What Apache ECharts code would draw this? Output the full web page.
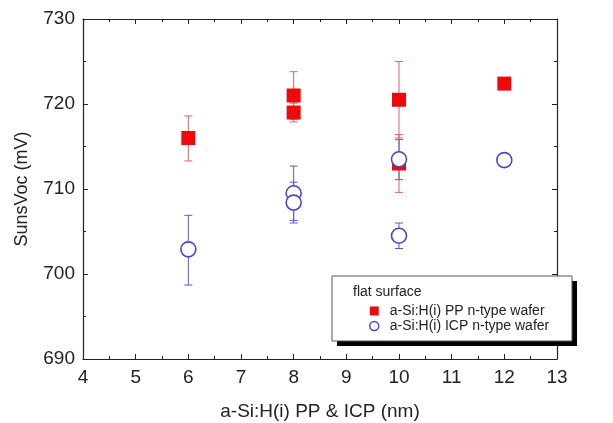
<!DOCTYPE html>
<html>
<head>
<meta charset="utf-8">
<script src="https://cdn.jsdelivr.net/npm/echarts@6/dist/echarts.min.js"></script>
<style>
html, body { margin: 0; padding: 0; background: #fff; }
#chart { width: 613px; height: 423px; }
</style>
</head>
<body>
<div id="chart"></div>
<script>
// thickness (nm), SunsVoc (mV), error bar low / high
var ppX    = [6, 8, 8, 10, 10, 12];
var ppY    = [716.0, 721.0, 719.0, 720.5, 713.0, 722.4];
var ppLow  = [713.3, 718.2, 717.9, 716.0, 709.6, 722.0];
var ppHigh = [718.6, 723.8, 720.1, 725.0, 716.4, 722.8];

var icpX    = [6, 8, 8, 10, 10, 12];
var icpY    = [702.9, 709.5, 708.4, 713.5, 704.5, 713.4];
var icpLow  = [698.7, 706.3, 706.0, 711.1, 703.0, 713.0];
var icpHigh = [706.9, 712.7, 710.8, 715.8, 706.0, 713.8];

var xTicks = [4, 5, 6, 7, 8, 9, 10, 11, 12, 13];
var yTicks = [690, 700, 710, 720, 730];

var font = 'Liberation Sans, Arial, sans-serif';
var red = '#ee0a0a';
var blue = '#4646d2';

function pairs(xs, ys) {
    return xs.map(function (x, i) { return [x, ys[i]]; });
}
function errData(xs, lo, hi) {
    return xs.map(function (x, i) { return [x, lo[i], hi[i]]; });
}
function errRender(color) {
    return function (params, api) {
        var top = api.coord([api.value(0), api.value(2)]);
        var bot = api.coord([api.value(0), api.value(1)]);
        var w = 4;
        var st = { stroke: color, lineWidth: 1 };
        return {
            type: 'group',
            children: [
                { type: 'line', shape: { x1: top[0], y1: top[1], x2: bot[0], y2: bot[1] }, style: st },
                { type: 'line', shape: { x1: top[0] - w, y1: top[1], x2: top[0] + w, y2: top[1] }, style: st },
                { type: 'line', shape: { x1: bot[0] - w, y1: bot[1], x2: bot[0] + w, y2: bot[1] }, style: st }
            ]
        };
    };
}

var chart = echarts.init(document.getElementById('chart'));

var axisLine = { show: true, lineStyle: { color: '#222', width: 1.2 } };
var tick = { show: true, inside: true, length: 5, lineStyle: { color: '#222' } };
var minor = { show: true, splitNumber: 2, length: 3, lineStyle: { color: '#222' } };

var option = {
    animation: false,
    backgroundColor: '#fff',
    grid: { left: 83, right: 56, top: 19, bottom: 64, containLabel: false, outerBoundsMode: 'none' },
    xAxis: [{
        type: 'value',
        min: xTicks[0], max: xTicks[xTicks.length - 1], interval: 1,
        name: 'a-Si:H(i) PP & ICP (nm)',
        nameLocation: 'middle', nameGap: 43,
        nameTextStyle: { fontFamily: font, fontSize: 19, color: '#222' },
        axisLine: axisLine, axisTick: tick, minorTick: minor,
        splitLine: { show: false },
        axisLabel: { fontFamily: font, fontSize: 19, color: '#222', margin: 9 }
    }, {
        type: 'value', position: 'top',
        min: xTicks[0], max: xTicks[xTicks.length - 1], interval: 1,
        axisLine: axisLine, axisTick: tick, minorTick: minor,
        splitLine: { show: false }, axisLabel: { show: false }
    }],
    yAxis: [{
        type: 'value',
        min: yTicks[0], max: yTicks[yTicks.length - 1], interval: 10,
        name: 'SunsVoc (mV)',
        nameLocation: 'middle', nameGap: 52,
        nameTextStyle: { fontFamily: font, fontSize: 18, color: '#222' },
        axisLine: axisLine, axisTick: tick, minorTick: minor,
        splitLine: { show: false },
        axisLabel: { fontFamily: font, fontSize: 19, color: '#222', margin: 8 }
    }, {
        type: 'value', position: 'right',
        min: yTicks[0], max: yTicks[yTicks.length - 1], interval: 10,
        axisLine: axisLine, axisTick: tick, minorTick: minor,
        splitLine: { show: false }, axisLabel: { show: false }
    }],
    graphic: [
        { type: 'rect', shape: { x: 337, y: 281, width: 240, height: 65 }, style: { fill: '#000' }, z: 10 },
        { type: 'rect', shape: { x: 332, y: 276, width: 240, height: 65 }, style: { fill: '#fff', stroke: '#555', lineWidth: 1 }, z: 11 },
        { type: 'text', x: 353, y: 285, style: { text: 'flat surface', fontFamily: font, fontSize: 14, fill: '#222' }, z: 12 }
    ],
    legend: {
        orient: 'vertical',
        left: 364, top: 299,
        itemWidth: 9, itemHeight: 9, itemGap: 1,
        z: 12,
        textStyle: { fontFamily: font, fontSize: 14, color: '#222', padding: [0, 0, 0, 6] },
        data: [
            { name: 'a-Si:H(i) PP n-type wafer', icon: 'rect' },
            { name: 'a-Si:H(i) ICP n-type wafer', icon: 'circle', itemStyle: { color: '#fff', borderColor: blue, borderWidth: 1.5 } }
        ]
    },
    series: [{
        type: 'custom', name: 'pp-err',
        renderItem: errRender('#e86060'),
        data: errData(ppX, ppLow, ppHigh), z: 1
    }, {
        type: 'custom', name: 'icp-err',
        renderItem: errRender('#5a5ad8'),
        data: errData(icpX, icpLow, icpHigh), z: 1
    }, {
        type: 'scatter', name: 'a-Si:H(i) PP n-type wafer',
        symbol: 'rect', symbolSize: 14,
        itemStyle: { color: red, opacity: 1 },
        data: pairs(ppX, ppY), z: 2
    }, {
        type: 'scatter', name: 'a-Si:H(i) ICP n-type wafer',
        symbol: 'circle', symbolSize: 15,
        itemStyle: { color: '#fff', borderColor: blue, borderWidth: 1.6, opacity: 1 },
        data: pairs(icpX, icpY), z: 3
    }]
};

chart.setOption(option);
</script>
</body>
</html>
